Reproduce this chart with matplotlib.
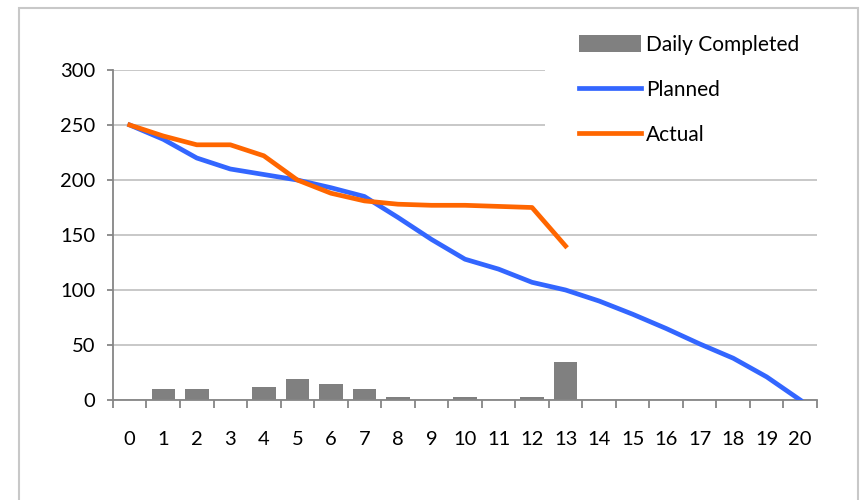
import numpy as np
import matplotlib.pyplot as plt
from matplotlib.patches import Rectangle

days = list(range(21))
planned = [250, 237, 220, 210, 205, 200, 193, 185, 166, 146, 128, 119, 107, 100, 90, 78, 65, 51, 38, 21, 0]
actual = [250, 240, 232, 232, 222, 200, 188, 181, 178, 177, 177, 176, 175, 140]
daily = [0, 10, 10, 0, 12, 19, 15, 10, 3, 0, 3, 0, 3, 35, 0, 0, 0, 0, 0, 0, 0]

plt.rcParams['font.family'] = ['Lato', 'DejaVu Sans']

fig = plt.figure(figsize=(8.61, 5.0), dpi=100)
ax = fig.add_axes([0.1312, 0.2, 0.8177, 0.66])

# outer chart border
fig.patches.append(Rectangle((19/861, -0.05), 839/861, 1.05 - 8/500, transform=fig.transFigure,
                             fill=False, edgecolor='#c8c8c8', linewidth=1.5))
# white legend area hides the gridlines behind it
ax.add_patch(Rectangle((545/861, 1 - 152/500), 280/861, 150/500, transform=fig.transFigure,
                       facecolor='white', edgecolor='none', clip_on=False, zorder=1))

ax.bar(days, daily, width=0.7, color='#808080', label='Daily Completed', zorder=2)
ax.plot(days, planned, color='#3366ff', lw=3.4, solid_joinstyle='round', label='Planned', zorder=3)
ax.plot(days[:len(actual)], actual, color='#ff6600', lw=3.4, solid_joinstyle='round', label='Actual', zorder=4)

ax.set_xlim(-0.5, 20.5)
ax.set_ylim(0, 300)
ax.set_yticks(range(0, 301, 50))
ax.set_xticks(days)
ax.set_xticks(np.arange(-0.5, 21, 1), minor=True)
ax.grid(axis='y', color='#c4c4c4', lw=1.3, zorder=0)
ax.set_axisbelow(True)

for s in ['top', 'right']:
    ax.spines[s].set_visible(False)
for s in ['left', 'bottom']:
    ax.spines[s].set_color('#868686')
    ax.spines[s].set_linewidth(1.3)

ax.tick_params(axis='x', which='major', length=0, pad=22, labelsize=14.5)
ax.tick_params(axis='x', which='minor', length=5.5, width=1.3, color='#868686')
ax.tick_params(axis='y', length=4.5, width=1.3, color='#868686', pad=8, labelsize=14.5)

h, l = ax.get_legend_handles_labels()
order = [l.index('Daily Completed'), l.index('Planned'), l.index('Actual')]
leg = ax.legend([h[i] for i in order], [l[i] for i in order],
                loc='upper left', bbox_to_anchor=(564/861, 1 - 20/500), bbox_transform=fig.transFigure,
                fontsize=15, frameon=False, borderpad=0.2, handlelength=3.0, handleheight=0.85,
                handletextpad=0.25, labelspacing=1.2)
leg.set_zorder(10)

fig.savefig('out.png', dpi=100)
